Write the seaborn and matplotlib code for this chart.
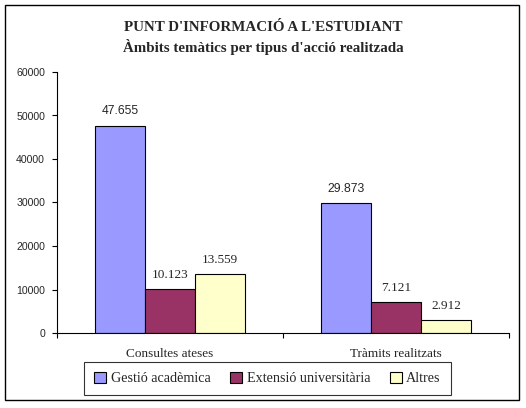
import pandas as pd
import matplotlib.pyplot as plt
import seaborn as sns
from matplotlib.patches import Rectangle

# Chart data
categories = ["Consultes ateses", "Tràmits realitzats"]
series = ["Gestió acadèmica", "Extensió universitària", "Altres"]
gestio = [47655, 29873]
extensio = [10123, 7121]
altres = [13559, 2912]
colors = ["#9999FF", "#993366", "#FFFFCC"]
yticks = [0, 10000, 20000, 30000, 40000, 50000, 60000]

df = pd.DataFrame({
    "categoria": categories * 3,
    "serie": [series[0]] * 2 + [series[1]] * 2 + [series[2]] * 2,
    "valor": gestio + extensio + altres,
})

sns.set_style("white")
plt.rcParams['font.family'] = ['Liberation Serif', 'DejaVu Serif']
sans = ['Liberation Sans', 'DejaVu Sans']

fig = plt.figure(figsize=(5.26, 4.08), dpi=100)
ax = fig.add_axes([57 / 526, 1 - 333 / 408, 452 / 526, 261 / 408])

sns.barplot(data=df, x="categoria", y="valor", hue="serie", palette=colors,
            width=0.667, edgecolor="black", linewidth=0.8, saturation=1, ax=ax)

# Value labels with dot as thousands separator
for i, cont in enumerate(ax.containers):
    labels = [f"{int(v):,}".replace(",", ".") for v in cont.datavalues]
    if i == 0:
        ax.bar_label(cont, labels=labels, padding=6, fontsize=8.7, family=sans)
    else:
        ax.bar_label(cont, labels=labels, padding=6, fontsize=9.5)

ax.set_xlim(-0.5, 1.5)
ax.set_ylim(0, 60000)
ax.set_yticks(yticks)
ax.set_yticklabels([str(v) for v in yticks], fontsize=7.6, family=sans)
ax.set_xticks([0, 1])
ax.set_xticklabels(categories, fontsize=9.5)
ax.tick_params(axis='x', length=0, pad=11)
ax.tick_params(axis='y', length=3.6, width=0.8, left=True, color='black', pad=5)
ax.set_xticks([-0.5, 0.5, 1.5], minor=True)
ax.tick_params(axis='x', which='minor', length=3.6, width=0.8, bottom=True, color='black')
ax.set_xlabel("")
ax.set_ylabel("")

for s in ["top", "right"]:
    ax.spines[s].set_visible(False)
for s in ["left", "bottom"]:
    ax.spines[s].set_color("black")
    ax.spines[s].set_linewidth(0.8)

ax.legend(loc="upper center", bbox_to_anchor=(267.5 / 526, 1 - 362 / 408),
          bbox_transform=fig.transFigure, ncol=3, frameon=True,
          fancybox=False, edgecolor="black", fontsize=10.2, handlelength=0.85,
          handleheight=0.85, handletextpad=0.3, columnspacing=1.4,
          borderpad=0.7, borderaxespad=0)
ax.get_legend().get_frame().set_linewidth(0.8)

fig.text(0.5, 0.933, "PUNT D'INFORMACIÓ A L'ESTUDIANT", ha="center", va="center",
         fontsize=10.8, fontweight="bold")
fig.text(0.5, 0.884, "Àmbits temàtics per tipus d'acció realitzada", ha="center",
         va="center", fontsize=10.8, fontweight="bold")

fig.patches.append(Rectangle((5 / 526, 8 / 408), 514 / 526, 395 / 408,
                             transform=fig.transFigure, fill=False,
                             edgecolor="black", linewidth=1))

fig.savefig("out.png", dpi=100)
